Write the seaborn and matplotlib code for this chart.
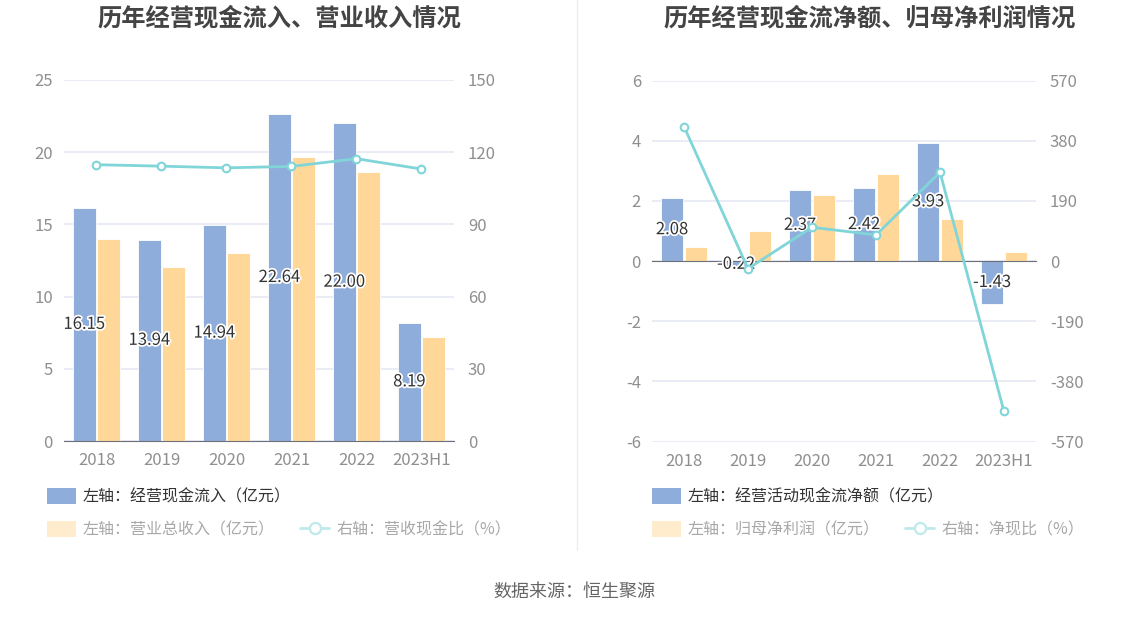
import numpy as np
import pandas as pd
import matplotlib
matplotlib.use('Agg')
import matplotlib.pyplot as plt
import matplotlib.patheffects as pe
from matplotlib.patches import Patch
from matplotlib.lines import Line2D
import seaborn as sns

years = ['2018', '2019', '2020', '2021', '2022', '2023H1']

# left chart
cash_inflow = [16.15, 13.94, 14.94, 22.64, 22.00, 8.19]
revenue = [14.0, 12.07, 13.04, 19.7, 18.61, 7.18]
cash_rev_ratio = [114.8, 114.2, 113.5, 114.1, 117.3, 113.0]

# right chart
net_cash_flow = [2.08, -0.22, 2.37, 2.42, 3.93, -1.43]
net_profit = [0.47, 1.01, 2.19, 2.90, 1.38, 0.29]
net_cash_ratio = [424.6, -24.3, 106.5, 82.2, 280.4, -475.0]

left_ticks = [0, 5, 10, 15, 20, 25]
left_ticks2 = [0, 30, 60, 90, 120, 150]
right_ticks = [-6, -4, -2, 0, 2, 4, 6]
right_ticks2 = [-570, -380, -190, 0, 190, 380, 570]

BLUE = '#8eaddb'
ORANGE = '#ffd899'
TEAL = '#80d5d8'
GRID = '#e6e9f3'
TICK = '#8f8f8f'
AXIS = '#6e7079'

sns.set_style('white')
plt.rcParams['font.family'] = ['Noto Sans CJK SC', 'DejaVu Sans']
plt.rcParams['axes.unicode_minus'] = False

fig = plt.figure(figsize=(11.48, 6.19), dpi=100)
W, H = 1148, 619


def add_axes(x0, x1, y0, y1):
    return fig.add_axes([x0 / W, 1 - y1 / H, (x1 - x0) / W, (y1 - y0) / H])


def draw_panel(ax, bar1, bar2, ratio, names, ylim, yticks, ylim2, yticks2, zero_axis):
    df = pd.DataFrame({
        'year': years * 2,
        'value': bar1 + bar2,
        'series': [names[0]] * len(years) + [names[1]] * len(years),
    })
    sns.barplot(data=df, x='year', y='value', hue='series', palette=[BLUE, ORANGE],
                width=0.74, gap=0.08, saturation=1, ax=ax, legend=False,
                edgecolor='white', linewidth=0.6, zorder=2)
    ax.bar_label(ax.containers[0], labels=[f'{v:.2f}' for v in bar1], label_type='center',
                 fontsize=12, color='#333333',
                 path_effects=[pe.withStroke(linewidth=2.5, foreground='white')], zorder=5)
    ax.set_xlim(-0.5, len(years) - 0.5)
    ax.set_ylim(*ylim)
    ax.set_yticks(yticks)
    ax.set_yticklabels([str(t) for t in yticks])
    ax.grid(axis='y', color=GRID, linewidth=1.2, zorder=0)
    ax.set_axisbelow(True)
    ax.set_xlabel('')
    ax.set_ylabel('')
    for s in ['top', 'right', 'left']:
        ax.spines[s].set_visible(False)
    ax.tick_params(axis='y', length=0, labelsize=12, labelcolor=TICK, pad=8)
    if zero_axis:
        ax.spines['bottom'].set_position(('data', 0))
        ax.spines['bottom'].set_color(AXIS)
        ax.tick_params(axis='x', length=5, color=AXIS, labelbottom=False)
        sec = ax.secondary_xaxis('bottom')
        sec.set_xticks(range(len(years)))
        sec.set_xticklabels(years)
        sec.tick_params(length=0, labelsize=12, labelcolor=TICK, pad=8)
        sec.spines['bottom'].set_visible(False)
    else:
        ax.spines['bottom'].set_color(AXIS)
        ax.tick_params(axis='x', length=5, color=AXIS, labelsize=12, labelcolor=TICK, pad=3)

    ax2 = ax.twinx()
    sns.lineplot(x=np.arange(len(years)), y=ratio, ax=ax2, color=TEAL, linewidth=2,
                 marker='o', markersize=5.5, markerfacecolor='white',
                 markeredgecolor=TEAL, markeredgewidth=1.5)
    ax2.set_ylim(*ylim2)
    ax2.set_yticks(yticks2)
    ax2.set_yticklabels([str(t) for t in yticks2])
    ax2.tick_params(axis='y', length=0, labelsize=12, labelcolor=TICK, pad=10)
    for s in ax2.spines.values():
        s.set_visible(False)
    ax2.set_xlim(-0.5, len(years) - 0.5)
    return ax2


def draw_legend(x, first, second, third):
    h1 = [Patch(facecolor=BLUE, edgecolor='none')]
    leg1 = fig.legend(h1, [first], loc='center left', bbox_to_anchor=(x / W, 1 - 497 / H),
                      frameon=False, fontsize=11.5, handlelength=1.8, handleheight=1.1,
                      handletextpad=0.45, borderpad=0, borderaxespad=0)
    for t in leg1.get_texts():
        t.set_color('#333333')
    h2 = [Patch(facecolor='#ffeccc', edgecolor='none'),
          Line2D([0], [0], color='#bfe9eb', linewidth=2, marker='o', markersize=8,
                 markerfacecolor='white', markeredgecolor='#bfe9eb', markeredgewidth=1.6)]
    leg2 = fig.legend(h2, [second, third], loc='center left', ncol=2,
                      bbox_to_anchor=(x / W, 1 - 530 / H), frameon=False, fontsize=11.5,
                      handlelength=1.8, handleheight=1.1, handletextpad=0.45,
                      columnspacing=1.6, borderpad=0, borderaxespad=0)
    for t in leg2.get_texts():
        t.set_color('#a8a8a8')


ax_l = add_axes(64, 454, 80, 441)
draw_panel(ax_l, cash_inflow, revenue, cash_rev_ratio, ['经营现金流入', '营业总收入'],
           (0, 25), left_ticks, (0, 150), left_ticks2, zero_axis=False)

ax_r = add_axes(652, 1036, 80.5, 441.5)
draw_panel(ax_r, net_cash_flow, net_profit, net_cash_ratio, ['经营活动现金流净额', '归母净利润'],
           (-6, 6), right_ticks, (-570, 570), right_ticks2, zero_axis=True)

fig.text(279 / W, 1 - 18 / H, '历年经营现金流入、营业收入情况', ha='center', va='center',
         fontsize=17.5, fontweight='bold', color='#444444')
fig.text(870 / W, 1 - 18 / H, '历年经营现金流净额、归母净利润情况', ha='center', va='center',
         fontsize=17.5, fontweight='bold', color='#444444')

draw_legend(47, '左轴：经营现金流入（亿元）', '左轴：营业总收入（亿元）', '右轴：营收现金比（%）')
draw_legend(652, '左轴：经营活动现金流净额（亿元）', '左轴：归母净利润（亿元）', '右轴：净现比（%）')

fig.add_artist(Line2D([577 / W, 577 / W], [1 - 550 / H, 1.0], color='#eeeeee', linewidth=1))

fig.text(574 / W, 1 - 592 / H, '数据来源：恒生聚源', ha='center', va='center',
         fontsize=13, color='#666666')

fig.savefig('out.png', dpi=100)
